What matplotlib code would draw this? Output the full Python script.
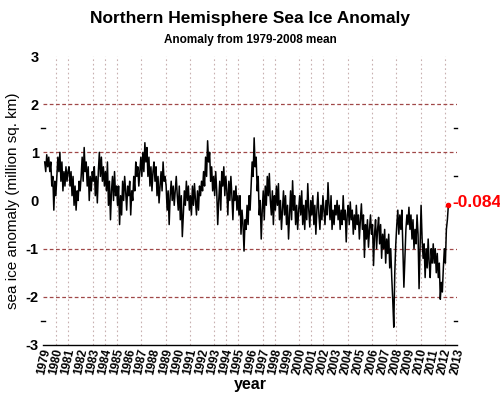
import matplotlib
matplotlib.use("Agg")
import matplotlib.pyplot as plt
import numpy as np

years = list(range(1979, 2013))
anom = {
    1979: [0.8, 0.6, 0.95, 0.7, 0.9, 0.6, 0.8, 0.3, 0.5, -0.2, 0.4, 0.1],
    1980: [0.5, 0.9, 0.6, 1.0, 0.4, 0.8, 0.2, 0.6, 0.3, 0.7, 0.4, 0.6],
    1981: [0.7, 0.3, 0.6, 0.1, 0.5, -0.1, 0.3, -0.2, 0.2, 0.0, 0.4, 0.2],
    1982: [0.5, 0.9, 0.4, 1.1, 0.6, 0.8, 0.3, 0.7, 0.0, 0.5, 0.2, 0.6],
    1983: [0.4, 0.7, 0.1, 0.5, -0.05, 0.6, 1.0, 0.5, 0.9, 0.4, 0.7, 0.3],
    1984: [0.6, 0.2, 0.8, -0.1, 0.4, -0.4, 0.2, 0.5, 0.0, 0.6, 0.1, 0.3],
    1985: [-0.1, 0.3, -0.5, 0.1, -0.3, 0.4, 0.0, 0.5, 0.2, -0.2, 0.3, 0.1],
    1986: [0.4, -0.3, 0.2, 0.0, 0.5, 0.2, 0.8, 0.5, 0.7, 0.3, 0.6, 0.9],
    1987: [0.5, 1.0, 0.6, 1.2, 0.8, 1.1, 0.5, 0.9, 0.3, 0.7, 0.2, 0.6],
    1988: [0.8, 0.4, 0.7, 0.1, 0.5, -0.05, 0.3, 0.6, 0.2, 0.8, 0.4, 0.5],
    1989: [0.3, -0.2, 0.2, -0.5, 0.1, 0.4, 0.0, 0.3, -0.1, 0.2, 0.5, 0.1],
    1990: [-0.2, 0.3, -0.4, 0.1, -0.75, -0.3, 0.2, -0.1, 0.4, 0.0, 0.3, -0.2],
    1991: [0.1, -0.3, 0.3, -0.1, 0.35, 0.0, -0.3, 0.2, -0.2, 0.3, 0.1, 0.4],
    1992: [0.2, 0.6, 0.3, 0.9, 0.5, 1.24, 0.8, 1.0, 0.4, 0.7, 0.2, 0.5],
    1993: [0.1, 0.6, 0.2, -0.5, 0.0, 0.4, -0.2, 0.6, 0.3, 0.7, 0.1, 0.5],
    1994: [0.2, -0.3, 0.4, 0.0, 0.5, 0.1, -0.4, 0.2, 0.0, 0.3, -0.2, 0.1],
    1995: [-0.3, 0.1, -0.7, -0.2, -0.5, -1.05, -0.4, -0.6, -0.1, -0.5, 0.1, -0.2],
    1996: [0.3, 0.8, 0.5, 1.3, 0.7, 0.9, 0.2, 0.5, -0.3, 0.0, -0.8, -0.2],
    1997: [0.2, -0.4, 0.3, -0.1, 0.5, 0.1, 0.56, 0.0, -0.3, 0.2, -0.5, 0.1],
    1998: [-0.2, 0.3, -0.1, 0.35, -0.4, 0.0, -0.6, -0.2, 0.2, -0.3, 0.1, -0.5],
    1999: [-0.1, -0.8, -0.3, 0.2, -0.4, 0.41, -0.2, 0.1, -0.5, -0.1, -0.6, -0.2],
    2000: [0.1, -0.3, 0.2, -0.5, -0.1, -0.6, 0.0, -0.4, 0.35, -0.2, -0.55, 0.0],
    2001: [-0.3, 0.1, -0.5, -0.1, -0.7, -0.2, 0.17, -0.3, -0.6, -0.1, -0.4, 0.1],
    2002: [-0.2, -0.5, 0.0, -0.3, 0.37, -0.1, -0.4, 0.1, -0.6, -0.2, -0.5, -0.1],
    2003: [-0.3, 0.0, -0.4, -0.1, -0.6, -0.2, -0.5, 0.1, -0.4, -0.2, -0.86, -0.3],
    2004: [-0.1, -0.5, -0.03, -0.4, -0.2, -0.7, -0.3, -0.6, -0.1, -0.5, -0.3, -0.8],
    2005: [-0.4, -0.07, -0.6, -0.3, -1.18, -0.5, -0.8, -0.4, -0.97, -0.6, -0.3, -0.7],
    2006: [-0.5, -1.35, -0.7, -0.4, -1.0, -0.6, -0.35, -0.9, -0.5, -1.2, -0.7, -1.0],
    2007: [-0.6, -1.3, -0.8, -1.1, -0.7, -1.4, -1.0, -1.6, -2.07, -2.63, -1.5, -0.9],
    2008: [-0.5, -0.2, -0.7, -0.3, -0.6, -0.2, -1.0, -1.8, -1.2, -0.6, -0.3, -0.5],
    2009: [-0.14, -0.6, -0.3, -0.8, -0.4, -1.0, -0.6, -0.9, -0.3, -0.7, -1.83, -1.0],
    2010: [-0.1, -0.8, -1.2, -0.9, -1.6, -1.0, -1.4, -0.8, -1.3, -1.6, -1.0, -1.3],
    2011: [-0.9, -1.3, -1.0, -1.5, -1.1, -1.6, -1.3, -2.05, -1.7, -1.9, -1.4, -1.0],
    2012: [-1.3, -0.6, -0.4, -0.084],
}
grid_years = [1980, 1981, 1983, 1984, 1985, 1987, 1989, 1991, 1993, 1994, 1995,
              1997, 1998, 2000, 2001, 2002, 2004, 2006, 2008, 2010, 2012]
tick_years = list(range(1979, 2014))
last_value = -0.084

t = []
v = []
for y in years:
    vals = anom[y]
    for i, val in enumerate(vals):
        t.append(y + (i + 0.5) / 12.0)
        v.append(val)

plt.rcParams['font.family'] = ['Liberation Sans', 'DejaVu Sans']
fig = plt.figure(figsize=(5.0, 3.96), dpi=100)
ax = fig.add_axes([43/500, 1 - 345/396, (457 - 43)/500, (345 - 56)/396])

for gy in grid_years:
    ax.axvline(gy, color='#c8b0b0', lw=0.8, ls=(0, (1.5, 2.5)), zorder=1)
for hy in [2, 1, -1, -2]:
    ax.axhline(hy, color='#a04848', lw=0.9, ls=(0, (3, 2)), zorder=1)

ax.plot(t, v, color='black', lw=1.1, zorder=3)
ax.plot([t[-1]], [v[-1]], 'o', color='red', ms=3, zorder=4)
ax.text(t[-1] + 0.3, last_value + 0.05, f"{last_value:.3f}", color='red',
        fontsize=12.5, fontweight='bold', ha='left', va='center')

ax.set_xlim(1978.9, 2013)
ax.set_ylim(-3, 3)
ax.set_xticks(tick_years)
ax.set_xticklabels([str(y) for y in tick_years], rotation=78, fontsize=8.5,
                   fontweight='bold')
ax.set_yticks([3, 2, 1, 0, -1, -2, -3])
ax.set_yticklabels(['3', '2', '1', '0', '-1', '-2', '-3'], fontsize=10.5, fontweight='bold')
ax.tick_params(axis='both', length=0, pad=3)
ax.tick_params(axis='x', pad=2)
for s in ['top', 'left', 'right']:
    ax.spines[s].set_visible(False)
ax.spines['bottom'].set_linewidth(1.0)

# small marks at half-unit positions
for yy in [1.5, -2.5]:
    ax.plot([-0.004, 0.004], [yy, yy], transform=ax.get_yaxis_transform(),
            color='black', lw=1, clip_on=False)
for yy in [1.5, 0.5, -2.5]:
    ax.plot([0.993, 1.001], [yy, yy], transform=ax.get_yaxis_transform(),
            color='black', lw=1, clip_on=False)

ax.set_ylabel('sea ice anomaly (million sq. km)', fontsize=11, labelpad=4)
ax.set_xlabel('year', fontsize=11.5, fontweight='bold', labelpad=1)

fig.text(0.5, 1 - 18/396, 'Northern Hemisphere Sea Ice Anomaly', ha='center', va='center',
         fontsize=12.5, fontweight='bold')
fig.text(0.5, 1 - 40/396, 'Anomaly from 1979-2008 mean', ha='center', va='center',
         fontsize=8.5, fontweight='bold')

fig.savefig('out.png', dpi=100)
